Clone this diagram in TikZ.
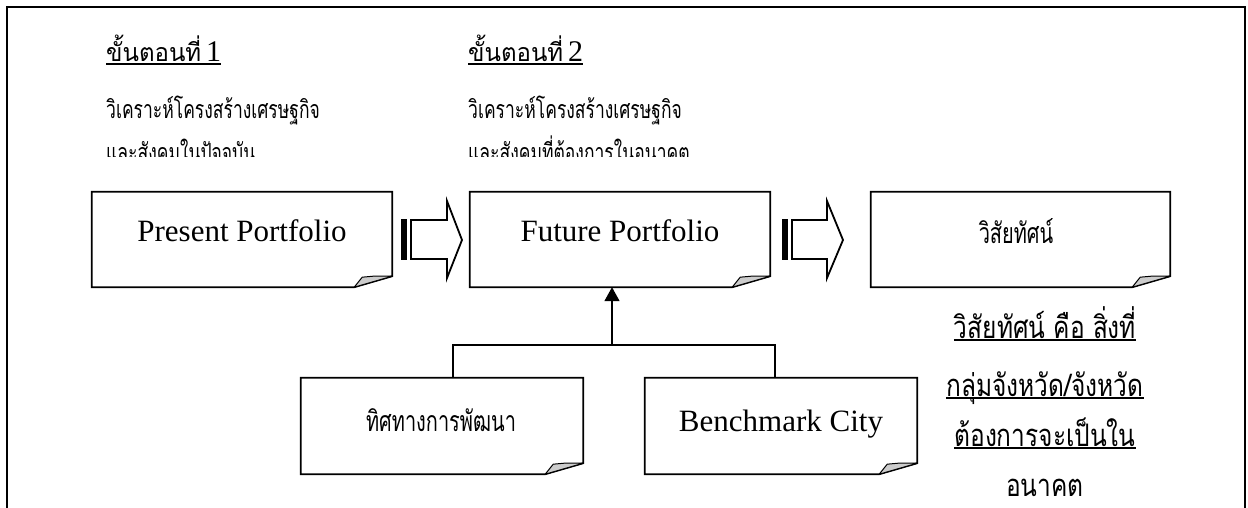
\documentclass[tikz,border=0pt]{standalone}
\usepackage{fontspec}
\setmainfont{Liberation Serif}
\newfontfamily\thai[Script=Thai,FakeStretch=0.7]{Loma}
\newfontfamily\thaiw[Script=Thai,FakeStretch=0.96]{Loma}
\newfontfamily\thain[Script=Thai,FakeStretch=0.79]{Loma}
\usetikzlibrary{arrows.meta}

\tikzset{
  boxline/.style={line width=1.8pt, line join=miter},
  frameline/.style={line width=2.4pt},
  foldfill/.style={fill=gray!40, line width=1pt, line join=round},
  conn/.style={line width=1.6pt},
  uline/.style={line width=1.3pt},
  noteshape/.style={inner sep=0, draw=none},
  eng/.style={font=\fontsize{31}{31}\selectfont, anchor=base, inner sep=0},
  thaibox/.style={font=\thai\fontsize{28.5}{28.5}\selectfont, anchor=base, inner sep=0},
  thaihead/.style={font=\thaiw\fontsize{25}{25}\selectfont, anchor=base west, inner sep=0},
  thaistep/.style={font=\thai\fontsize{25}{25}\selectfont, anchor=base west, inner sep=0},
  thainote/.style={font=\thain\fontsize{31}{31}\selectfont, anchor=base, inner sep=0, text depth=2pt},
}

\newcommand\drawnote[1]{%
  \draw[boxline] (#1.north west) -- (#1.north east) -- ([yshift=11pt]#1.south east)
    -- ([xshift=-38pt]#1.south east) -- (#1.south west) -- cycle;
  \filldraw[foldfill] ([xshift=-38pt]#1.south east) -- ([xshift=-30pt,yshift=10pt]#1.south east)
    -- ([xshift=-19pt,yshift=11pt]#1.south east) -- ([yshift=11pt]#1.south east) -- cycle;}

\newcommand\underit[1]{%
  \draw[uline] ([yshift=-2pt]#1.base west) -- ([yshift=-2pt]#1.base east);}

\newcommand\blockarrow[3]{% x0, shaft end, tip
  \fill (#1,219) rectangle ({#1+6},260);
  \draw[boxline] ({#1+10},220) -- (#2,220) -- (#2,201) -- (#3,240) -- (#2,278) -- (#2,259) -- ({#1+10},259) -- cycle;}

\begin{document}
\begin{tikzpicture}[x=1pt,y=-1pt]
\useasboundingbox (0,0) rectangle (1248,508);
\draw[frameline] (7,520) -- (7,7) -- (1245,7) -- (1245,520);

% step texts (clipped third line)
\begin{scope}
\clip (0,0) rectangle (1248,157);
\node[thaihead] (s1h) at (106,62) {ขั้นตอนที่\hspace{5pt}{\rmfamily\fontsize{30}{30}\selectfont 1}};
\node[thaistep] (s1a) at (106,119) {วิเคราะห์โครงสร้างเศรษฐกิจ};
\node[thaistep] (s1b) at (106,162) {และสังคมในปัจจุบัน};
\node[thaihead] (s2h) at (468,62) {ขั้นตอนที่\hspace{5pt}{\rmfamily\fontsize{30}{30}\selectfont 2}};
\node[thaistep] (s2a) at (468,119) {วิเคราะห์โครงสร้างเศรษฐกิจ};
\node[thaistep] (s2b) at (468,162) {และสังคมที่ต้องการในอนาคต};
\end{scope}
\underit{s1h}
\underit{s2h}

% boxes
\node[noteshape, minimum width=300pt, minimum height=95pt] (present) at (242,239.5) {};
\node[noteshape, minimum width=300pt, minimum height=95pt] (future) at (620,239.5) {};
\node[noteshape, minimum width=299pt, minimum height=95pt] (vision) at (1020.5,239.5) {};
\node[noteshape, minimum width=282pt, minimum height=96pt] (direction) at (442,426) {};
\node[noteshape, minimum width=272pt, minimum height=96pt] (bench) at (781,426) {};
\drawnote{present}
\drawnote{future}
\drawnote{vision}
\drawnote{direction}
\drawnote{bench}

\node[eng] (presenttxt) at (242,241) {Present Portfolio};
\node[eng] (futuretxt) at (620,241) {Future Portfolio};
\node[thaibox] (visiontxt) at (1016,243) {วิสัยทัศน์};
\node[thaibox] (directiontxt) at (441,431) {ทิศทางการพัฒนา};
\node[eng] (benchtxt) at (781,431) {Benchmark City};

% block arrows
\blockarrow{401}{447}{462}
\blockarrow{782}{827}{843}

% connectors
\coordinate (jl) at (453,345);
\coordinate (jr) at (775,345);
\coordinate (jm) at (612,345);
\draw[conn] (direction.north -| jl) -- (jl) -- (jr) -- (bench.north -| jr);
\draw[conn, -{Triangle[length=14pt,width=15pt]}] (jm) -- (future.south -| jm);

% vision note
\node[thainote] (v1) at (1045,338) {วิสัยทัศน์ คือ สิ่งที่};
\node[thainote] (v2) at (1045,396) {กลุ่มจังหวัด/จังหวัด};
\node[thainote] (v3) at (1045,446) {ต้องการจะเป็นใน};
\node[thainote] (v4) at (1045,496) {อนาคต};
\underit{v1}
\underit{v2}
\underit{v3}
\end{tikzpicture}
\end{document}
